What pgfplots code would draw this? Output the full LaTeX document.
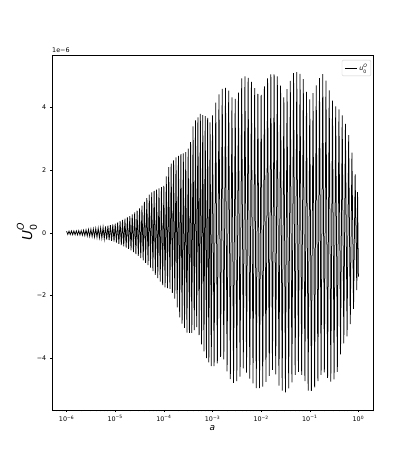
\documentclass[border=0pt]{standalone}
\usepackage{fontspec}
\setmainfont{DejaVu Sans}
\usepackage{pgfplots}
\pgfplotsset{compat=1.18}

\newcommand\tk{\fontsize{6.4}{7.5}\selectfont}
% stacked sub/superscript in the text font
\newcommand\supsub[3]{\textit{#1}\rlap{\raisebox{0.6em}{\fontsize{#3}{#3}\selectfont\textit{O}}}\raisebox{-0.35em}{\fontsize{#3}{#3}\selectfont #2}}

\begin{document}
\begin{tikzpicture}
\useasboundingbox (-52bp,-51bp) rectangle (363bp,410bp);
\begin{axis}[
    at={(0,0)}, anchor=south west,
    scale only axis,
    width=321bp, height=355bp,
    xmin=-6.3, xmax=0.3,
    ymin=-5.66, ymax=5.68,
    axis line style={line width=0.5bp},
    tick pos=left,
    tick align=outside,
    major tick length=2.2bp,
    minor tick length=1.3bp,
    every tick/.style={black, line width=0.5bp},
    xtick={-6,-5,-4,-3,-2,-1,0},
    xticklabels={10\textsuperscript{−6},10\textsuperscript{−5},10\textsuperscript{−4},10\textsuperscript{−3},10\textsuperscript{−2},10\textsuperscript{−1},10\textsuperscript{0}},
    minor xtick={-6.222,-6.155,-6.097,-6.046,
      -5.699,-5.523,-5.398,-5.301,-5.222,-5.155,-5.097,-5.046,
      -4.699,-4.523,-4.398,-4.301,-4.222,-4.155,-4.097,-4.046,
      -3.699,-3.523,-3.398,-3.301,-3.222,-3.155,-3.097,-3.046,
      -2.699,-2.523,-2.398,-2.301,-2.222,-2.155,-2.097,-2.046,
      -1.699,-1.523,-1.398,-1.301,-1.222,-1.155,-1.097,-1.046,
      -0.699,-0.523,-0.398,-0.301,-0.222,-0.155,-0.097,-0.046,
      0.301},
    ytick={-4,-2,0,2,4},
    yticklabels={−4,−2,0,2,4},
    ticklabel style={font=\tk},
    xlabel={\textit{a}},
    xlabel style={font=\fontsize{9}{10}\selectfont, yshift=3bp},
    legend style={at={(rel axis cs:0.994,0.986)}, anchor=north east,
      draw=black!20, rounded corners=1.2pt, inner xsep=2.5pt, inner ysep=1.5pt,
      font=\fontsize{6.4}{7}\selectfont, row sep=0pt},
    legend cell align=left,
    legend image code/.code={\draw[#1, line width=0.9bp] (0bp,0bp) -- (12bp,0bp);},
    clip=false,
]
\addplot[black, line width=0.75bp] table {
-6.000 0.050
-5.975 -0.052
-5.950 0.053
-5.925 -0.055
-5.900 0.057
-5.875 -0.058
-5.850 0.060
-5.825 -0.062
-5.800 0.063
-5.775 -0.065
-5.750 0.067
-5.725 -0.068
-5.700 0.070
-5.675 -0.076
-5.650 0.081
-5.625 -0.087
-5.600 0.093
-5.575 -0.098
-5.550 0.104
-5.525 -0.109
-5.500 0.115
-5.475 -0.121
-5.450 0.126
-5.425 -0.132
-5.400 0.138
-5.375 -0.143
-5.350 0.149
-5.325 -0.154
-5.300 0.160
-5.275 -0.171
-5.250 0.182
-5.225 -0.193
-5.200 0.203
-5.175 -0.214
-5.150 0.225
-5.125 -0.236
-5.100 0.247
-5.075 -0.258
-5.050 0.268
-5.025 -0.279
-5.000 0.290
-4.975 -0.31
-4.950 0.33
-4.925 -0.35
-4.900 0.37
-4.875 -0.39
-4.850 0.41
-4.825 -0.43
-4.800 0.45
-4.775 -0.47
-4.750 0.49
-4.725 -0.51
-4.700 0.53
-4.675 -0.56
-4.650 0.59
-4.625 -0.62
-4.600 0.65
-4.575 -0.68
-4.550 0.71
-4.525 -0.74
-4.500 0.78
-4.475 -0.81
-4.450 0.87
-4.425 -0.88
-4.400 0.99
-4.375 -0.96
-4.350 1.11
-4.325 -1.03
-4.300 1.22
-4.275 -1.11
-4.250 1.29
-4.225 -1.22
-4.200 1.34
-4.175 -1.34
-4.150 1.38
-4.125 -1.45
-4.100 1.42
-4.075 -1.56
-4.050 1.46
-4.025 -1.67
-4.000 1.50
-3.975 -1.74
-3.950 1.80
-3.925 -1.77
-3.900 2.10
-3.875 -1.79
-3.850 2.21
-3.825 -1.92
-3.800 2.31
-3.775 -2.10
-3.750 2.41
-3.725 -2.38
-3.700 2.46
-3.675 -2.70
-3.650 2.51
-3.625 -2.90
-3.600 2.54
-3.575 -3.04
-3.550 2.58
-3.525 -3.19
-3.500 2.69
-3.475 -3.20
-3.450 2.90
-3.425 -3.20
-3.400 3.40
-3.375 -3.11
-3.350 3.59
-3.325 -3.01
-3.300 3.69
-3.275 -3.27
-3.250 3.80
-3.225 -3.56
-3.200 3.76
-3.175 -3.79
-3.150 3.73
-3.125 -4.00
-3.100 3.67
-3.075 -4.14
-3.050 3.53
-3.025 -4.26
-3.000 3.75
-2.967 -4.26
-2.933 4.16
-2.900 -4.17
-2.867 4.42
-2.833 -3.96
-2.800 4.60
-2.767 -4.04
-2.733 4.63
-2.700 -4.43
-2.667 4.54
-2.633 -4.67
-2.600 4.33
-2.567 -4.79
-2.533 4.28
-2.500 -4.74
-2.467 4.48
-2.433 -4.59
-2.400 4.93
-2.367 -4.33
-2.333 5.00
-2.300 -4.47
-2.267 4.95
-2.233 -4.66
-2.200 4.82
-2.167 -4.81
-2.133 4.62
-2.100 -4.96
-2.067 4.44
-2.033 -4.96
-2.000 4.41
-1.967 -4.91
-1.933 4.68
-1.900 -4.76
-1.867 4.93
-1.833 -4.57
-1.800 5.06
-1.767 -4.38
-1.733 5.06
-1.700 -4.52
-1.667 5.00
-1.633 -4.88
-1.600 4.70
-1.567 -5.04
-1.533 4.33
-1.500 -5.10
-1.467 4.59
-1.433 -4.97
-1.400 4.85
-1.367 -4.78
-1.333 5.10
-1.300 -4.54
-1.267 5.13
-1.233 -4.44
-1.200 5.08
-1.167 -4.54
-1.133 4.91
-1.100 -4.74
-1.067 4.50
-1.033 -5.04
-1.000 4.26
-0.967 -5.05
-0.933 4.46
-0.900 -4.94
-0.867 4.71
-0.833 -4.74
-0.800 4.94
-0.767 -4.54
-0.733 5.07
-0.700 -4.46
-0.667 4.86
-0.633 -4.63
-0.600 4.55
-0.567 -4.75
-0.533 4.22
-0.500 -4.68
-0.467 4.04
-0.433 -4.44
-0.400 3.94
-0.367 -3.88
-0.333 3.75
-0.300 -3.53
-0.267 3.48
-0.233 -3.31
-0.200 3.12
-0.167 -2.92
-0.133 2.56
-0.100 -2.43
-0.067 1.87
-0.033 -1.83
-0.017 1.30
0.000 -1.40
};
\addlegendentry{\supsub{u}{0}{4.6}\hspace{3pt}}

\node[anchor=south west, font=\tk, inner sep=0pt] at ([yshift=2bp]rel axis cs:0,1) {1e−6};
\node[rotate=90, font=\fontsize{13.7}{15}\selectfont, inner sep=0pt]
  at ([xshift=-25bp]rel axis cs:0,0.5) {\supsub{U}{0}{9.5}\hspace{5pt}};
\end{axis}
\end{tikzpicture}
\end{document}
